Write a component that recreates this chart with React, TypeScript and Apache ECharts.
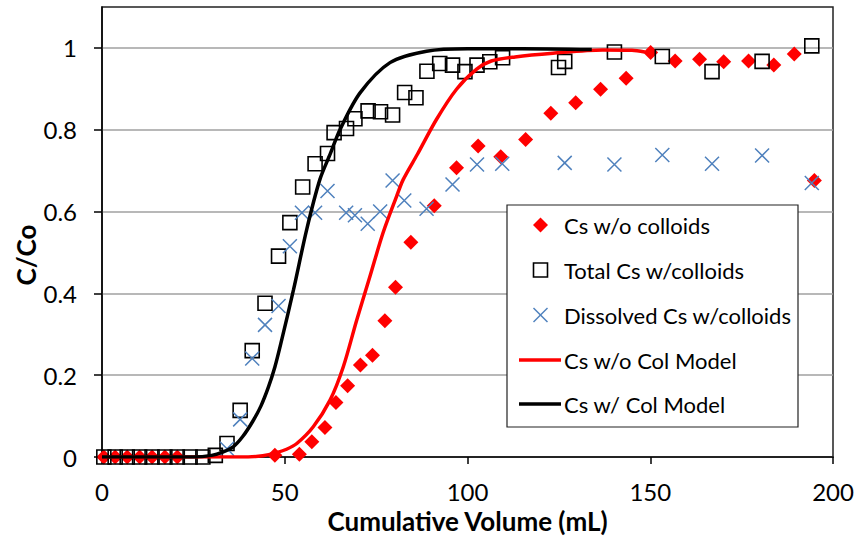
import React, { useEffect, useRef } from "react";
import * as echarts from "echarts";

// Cs w/o colloids (red diamonds)
const cwoVol = [0.5, 3.6, 6.9, 10.3, 13.7, 17.2, 20.6, 47.3, 54.0, 57.4, 61.0, 64.0, 67.2, 70.7, 74.0, 77.4, 80.3, 84.5, 90.9, 97.0, 102.9, 109.1, 115.9, 122.8, 129.6, 136.4, 143.4, 150.1, 156.8, 163.5, 170.1, 176.9, 183.8, 189.4, 194.9];
const cwoCC = [0, 0, 0, 0, 0, 0, 0, 0.004, 0.007, 0.037, 0.072, 0.133, 0.174, 0.225, 0.249, 0.333, 0.415, 0.525, 0.614, 0.707, 0.76, 0.734, 0.776, 0.84, 0.866, 0.899, 0.926, 0.989, 0.968, 0.972, 0.966, 0.968, 0.958, 0.985, 0.676];

// Total Cs w/colloids (hollow squares)
const totVol = [0.5, 3.6, 6.9, 10.3, 13.7, 17.2, 20.6, 24.1, 27.6, 31.0, 34.2, 37.8, 41.1, 44.6, 48.3, 51.4, 54.9, 58.3, 61.7, 63.5, 66.9, 69.2, 72.8, 76.2, 79.5, 82.8, 85.9, 88.9, 92.4, 95.9, 99.3, 102.6, 106.1, 109.6, 124.9, 126.6, 140.2, 153.3, 166.9, 180.6, 194.2];
const totCC = [0, 0, 0, 0, 0, 0, 0, 0, 0, 0.004, 0.033, 0.114, 0.26, 0.376, 0.491, 0.573, 0.66, 0.717, 0.742, 0.793, 0.803, 0.827, 0.846, 0.844, 0.836, 0.891, 0.878, 0.943, 0.962, 0.958, 0.942, 0.958, 0.966, 0.976, 0.952, 0.967, 0.99, 0.979, 0.942, 0.967, 1.005];

// Dissolved Cs w/colloids (blue x)
const disVol = [34.2, 37.8, 41.1, 44.6, 48.3, 51.4, 54.7, 58.3, 61.7, 66.8, 69.2, 72.7, 76.1, 79.5, 82.7, 88.8, 95.9, 102.6, 109.5, 126.6, 140.2, 153.3, 166.9, 180.6, 194.2];
const disCC = [0.02, 0.092, 0.241, 0.323, 0.369, 0.515, 0.597, 0.597, 0.65, 0.597, 0.591, 0.57, 0.6, 0.676, 0.627, 0.607, 0.666, 0.715, 0.717, 0.719, 0.715, 0.738, 0.717, 0.737, 0.67];

// Cs w/o Col Model (red line)
const noColModelVol = [0, 40, 44, 47.5, 50.5, 53.3, 57.8, 62.4, 66.0, 69.7, 73.3, 76.9, 80.6, 82.4, 86.3, 91.5, 97.0, 102.5, 106.5, 113, 123.4, 137.0, 145, 148.5];
const noColModelCC = [0, 0, 0.003, 0.01, 0.019, 0.033, 0.074, 0.139, 0.22, 0.335, 0.441, 0.548, 0.637, 0.678, 0.74, 0.825, 0.899, 0.948, 0.968, 0.978, 0.987, 0.995, 0.994, 0.99];

// Cs w/ Col Model (black line)
const colModelVol = [0, 25, 30, 33, 35.9, 38.5, 41.3, 43.5, 45.5, 47.3, 49.0, 52.4, 56.0, 59.6, 62.5, 65.1, 70.6, 78.8, 88.8, 100, 115, 134];
const colModelCC = [0, 0, 0.004, 0.012, 0.025, 0.05, 0.088, 0.125, 0.17, 0.22, 0.28, 0.409, 0.556, 0.678, 0.742, 0.8, 0.89, 0.964, 0.992, 0.998, 0.998, 0.996];

const xTicks = [0, 50, 100, 150, 200];
const yTicks = [0, 0.2, 0.4, 0.6, 0.8, 1];

const seriesNames = [
  "Cs w/o colloids",
  "Total Cs w/colloids",
  "Dissolved Cs w/colloids",
  "Cs w/o Col Model",
  "Cs w/ Col Model",
];

const zip = (xs: number[], ys: number[]) => xs.map((x, i) => [x, ys[i]]);

const FONT = "Lato";
const RED = "#ff0000";
const BLUE = "#4f81bd";

function buildLegend() {
  const boxX = 507;
  const boxY = 205;
  const iconCx = 540.5;
  const textX = 564;
  const rows = [225, 270, 315, 360, 404];
  const s = 7.5;
  const els: any[] = [
    {
      type: "rect",
      shape: { x: boxX, y: boxY, width: 291, height: 222 },
      style: { fill: "#fff", stroke: "#222", lineWidth: 1.2 },
      z: 20,
    },
    {
      type: "polygon",
      shape: { points: [[iconCx, rows[0] - s], [iconCx + s, rows[0]], [iconCx, rows[0] + s], [iconCx - s, rows[0]]] },
      style: { fill: RED },
      z: 21,
    },
    {
      type: "rect",
      shape: { x: iconCx - 7, y: rows[1] - 7, width: 14, height: 14 },
      style: { fill: "none", stroke: "#000", lineWidth: 1.6 },
      z: 21,
    },
    {
      type: "line",
      shape: { x1: iconCx - 7, y1: rows[2] - 7, x2: iconCx + 7, y2: rows[2] + 7 },
      style: { stroke: BLUE, lineWidth: 1.5 },
      z: 21,
    },
    {
      type: "line",
      shape: { x1: iconCx + 7, y1: rows[2] - 7, x2: iconCx - 7, y2: rows[2] + 7 },
      style: { stroke: BLUE, lineWidth: 1.5 },
      z: 21,
    },
    {
      type: "line",
      shape: { x1: 519, y1: rows[3], x2: 561, y2: rows[3] },
      style: { stroke: RED, lineWidth: 3.5 },
      z: 21,
    },
    {
      type: "line",
      shape: { x1: 519, y1: rows[4], x2: 561, y2: rows[4] },
      style: { stroke: "#000", lineWidth: 3.5 },
      z: 21,
    },
  ];
  seriesNames.forEach((name, i) => {
    els.push({
      type: "text",
      x: textX,
      y: rows[i],
      z: 21,
      style: {
        text: name,
        fontFamily: FONT,
        fontSize: 22,
        fill: "#000",
        textAlign: "left",
        textVerticalAlign: "middle",
      },
    });
  });
  return els;
}

export default function App() {
  const ref = useRef<HTMLDivElement>(null);

  useEffect(() => {
    if (!ref.current) return;
    const chart = echarts.init(ref.current, null, { renderer: "svg" });
    const option: any = {
      animation: false,
      backgroundColor: "#fff",
      textStyle: { fontFamily: FONT, color: "#000" },
      grid: {
        left: 102,
        right: 24,
        top: 7,
        bottom: 87,
        show: true,
        borderColor: "#222",
        borderWidth: 1.5,
        backgroundColor: "transparent",
      },
      xAxis: {
        type: "value",
        min: 0,
        max: 200,
        interval: 50,
        name: "Cumulative Volume (mL)",
        nameLocation: "middle",
        nameGap: 51,
        nameTextStyle: { fontFamily: FONT, fontSize: 26, fontWeight: "bold", color: "#000" },
        axisLine: { show: true, lineStyle: { color: "#000", width: 1.5 } },
        axisTick: { show: true, length: 7, inside: false, customValues: xTicks, lineStyle: { color: "#000", width: 1.5 } },
        axisLabel: { customValues: xTicks, fontFamily: FONT, fontSize: 24, color: "#000", margin: 22 },
        splitLine: { show: false },
      },
      yAxis: {
        type: "value",
        min: 0,
        max: 1.1,
        interval: 0.2,
        axisLine: { show: true, lineStyle: { color: "#000", width: 1.5 } },
        axisTick: { show: true, length: 8, inside: false, customValues: yTicks, lineStyle: { color: "#000", width: 1.5 } },
        axisLabel: {
          customValues: yTicks,
          fontFamily: FONT,
          fontSize: 24,
          color: "#000",
          margin: 25,
          formatter: (v: number) => String(+(+v).toFixed(1)),
        },
        splitLine: { show: true, lineStyle: { color: "#a0a0a0", width: 1.5 } },
      },
      graphic: [
        {
          type: "text",
          x: 26,
          y: 255,
          rotation: Math.PI / 2,
          style: {
            text: "C/Co",
            fontFamily: FONT,
            fontSize: 26,
            fontWeight: "bold",
            fill: "#000",
            textAlign: "center",
            textVerticalAlign: "middle",
          },
        },
        ...buildLegend(),
      ],
      series: [
        {
          name: seriesNames[0],
          type: "scatter",
          symbol: "diamond",
          symbolSize: 15,
          itemStyle: { color: RED, opacity: 1 },
          data: zip(cwoVol, cwoCC),
          z: 3,
        },
        {
          name: seriesNames[1],
          type: "scatter",
          symbol: "rect",
          symbolSize: 14,
          itemStyle: { color: "none", borderColor: "#000", borderWidth: 1.6, opacity: 1 },
          data: zip(totVol, totCC),
          z: 4,
        },
        {
          name: seriesNames[2],
          type: "scatter",
          symbol: "path://M0,0L10,10M10,0L0,10",
          symbolSize: 14,
          itemStyle: { color: "none", borderColor: BLUE, borderWidth: 1.5, opacity: 1 },
          data: zip(disVol, disCC),
          z: 5,
        },
        {
          name: seriesNames[3],
          type: "line",
          symbol: "none",
          smooth: 0.3,
          lineStyle: { color: RED, width: 3.5 },
          itemStyle: { color: RED },
          data: zip(noColModelVol, noColModelCC),
          z: 6,
        },
        {
          name: seriesNames[4],
          type: "line",
          symbol: "none",
          smooth: 0.3,
          lineStyle: { color: "#000", width: 3.5 },
          itemStyle: { color: "#000" },
          data: zip(colModelVol, colModelCC),
          z: 6,
        },
      ],
    };
    chart.setOption(option);
    return () => chart.dispose();
  }, []);

  return <div ref={ref} style={{ width: 857, height: 544, position: "absolute", left: 0, top: 0 }} />;
}
